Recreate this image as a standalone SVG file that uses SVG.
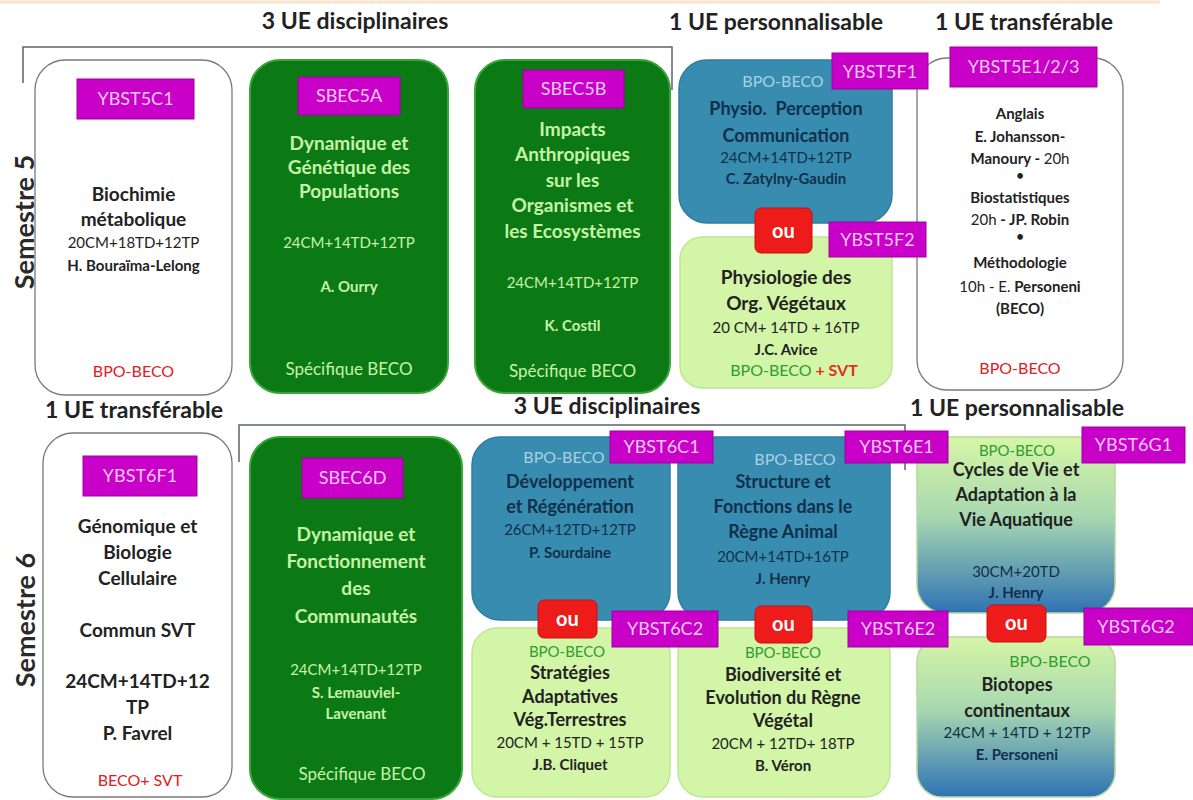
<svg xmlns="http://www.w3.org/2000/svg" width="1193" height="800" viewBox="0 0 1193 800">
<defs>
<linearGradient id="gb" x1="0" y1="0" x2="0" y2="1">
<stop offset="0" stop-color="#d6f6a6"/>
<stop offset="0.45" stop-color="#a8d8b0"/>
<stop offset="1" stop-color="#2f72b4"/>
</linearGradient>
<style>
text{font-family:Lato,"Liberation Sans",sans-serif;text-anchor:middle}
.title{font-size:23px;font-weight:bold;fill:#222}
.sem{font-size:27px;font-weight:bold;fill:#2a2a2a}
.lbl rect{fill:#c800c8;stroke:#a000a0;stroke-width:1}
.lbl text{fill:#f7c9f7;font-size:18px}
.white{fill:#fff;stroke:#7a7a7a;stroke-width:1.3}
.green{fill:#0c7a14;stroke:#39a539;stroke-width:2}
.blue{fill:#388cb0;stroke:#2e7ea0;stroke-width:1.5}
.lgreen{fill:#d3f5a8;stroke:#bfe597;stroke-width:1.5}
.grad{fill:url(#gb);stroke:#b8d8a0;stroke-width:1.5}
.ou rect{fill:#ee1b1b;stroke:#c81010;stroke-width:1}
.ou text{fill:#fff;font-size:20px;font-weight:bold}
.h{font-size:19px;font-weight:bold}
.s{font-size:15px}
.n{font-size:15px;font-weight:bold}
.dk{fill:#222}
.gt{fill:#c6f3a8}
.nv{fill:#10304b}
.rd{fill:#e02020}
.gr{fill:#2e9e2e}
.lb{fill:#a9d0e2}
.con{fill:none;stroke:#5b6170;stroke-width:1.5}
</style>
</defs>
<rect width="1193" height="800" fill="#fff"/>
<line x1="0" y1="2" x2="1160" y2="2" stroke="#fbe3cc" stroke-width="3"/>

<g id="connectors">
<polyline class="con" points="23,83 23,47 672,47 672,90"/>
<polyline class="con" points="239,462 239,425 905,425 905,470"/>
</g>

<g id="titles">
<text class="title" x="355" y="29">3 UE disciplinaires</text>
<text class="title" x="776" y="30">1 UE personnalisable</text>
<text class="title" x="1024" y="30">1 UE transférable</text>
<text class="title" x="134" y="418">1 UE transférable</text>
<text class="title" x="607" y="414">3 UE disciplinaires</text>
<text class="title" x="1017" y="416">1 UE personnalisable</text>
<text class="sem" transform="translate(34,222) rotate(-90)">Semestre 5</text>
<text class="sem" transform="translate(35,620) rotate(-90)">Semestre 6</text>
</g>

<g id="ybst5c1">
<rect class="white" x="35" y="60" width="197" height="335" rx="30"/>
<g class="lbl"><rect x="77" y="79" width="117" height="40"/><text x="135.5" y="105">YBST5C1</text></g>
<text class="h dk" x="133.5" y="201">Biochimie</text>
<text class="h dk" x="133.5" y="226">métabolique</text>
<text class="s dk" x="133.5" y="248">20CM+18TD+12TP</text>
<text class="n dk" x="133.5" y="271">H. Bouraïma-Lelong</text>
<text class="s rd" x="133.5" y="377" style="font-size:16px">BPO-BECO</text>
</g>

<g id="sbec5a">
<rect class="green" x="250" y="60" width="198" height="333" rx="30"/>
<g class="lbl"><rect x="298" y="77" width="102" height="38"/><text x="349" y="102">SBEC5A</text></g>
<text class="h gt" x="349" y="150">Dynamique et</text>
<text class="h gt" x="349" y="174">Génétique des</text>
<text class="h gt" x="349" y="198">Populations</text>
<text class="s gt" x="349" y="248">24CM+14TD+12TP</text>
<text class="n gt" x="349" y="292">A. Ourry</text>
<text class="s gt" x="349" y="375" style="font-size:17px">Spécifique BECO</text>
</g>

<g id="sbec5b">
<rect class="green" x="475" y="60" width="195" height="333" rx="30"/>
<g class="lbl"><rect x="523" y="70" width="101" height="38"/><text x="573.5" y="95">SBEC5B</text></g>
<text class="h gt" x="572.5" y="136">Impacts</text>
<text class="h gt" x="572.5" y="161">Anthropiques</text>
<text class="h gt" x="572.5" y="187">sur les</text>
<text class="h gt" x="572.5" y="212">Organismes et</text>
<text class="h gt" x="572.5" y="238">les Ecosystèmes</text>
<text class="s gt" x="572.5" y="288">24CM+14TD+12TP</text>
<text class="n gt" x="572.5" y="331">K. Costil</text>
<text class="s gt" x="572.5" y="377" style="font-size:17px">Spécifique BECO</text>
</g>

<g id="ybst5e">
<rect class="white" x="917" y="58" width="206" height="332" rx="30"/>
<g class="lbl"><rect x="950" y="47" width="147" height="40"/><text x="1023.5" y="73">YBST5E1/2/3</text></g>
<text class="n dk" x="1020" y="119">Anglais</text>
<text class="n dk" x="1020" y="142">E. Johansson-</text>
<text class="n dk" x="1020" y="164">Manoury - <tspan font-weight="normal">20h</tspan></text>
<text class="s dk" x="1020" y="181">•</text>
<text class="n dk" x="1020" y="203">Biostatistiques</text>
<text class="n dk" x="1020" y="225"><tspan font-weight="normal">20h</tspan> - JP. Robin</text>
<text class="s dk" x="1020" y="242">•</text>
<text class="n dk" x="1020" y="268">Méthodologie</text>
<text class="n dk" x="1020" y="292"><tspan font-weight="normal">10h - E.</tspan> Personeni</text>
<text class="n dk" x="1020" y="314">(BECO)</text>
<text class="s rd" x="1020" y="374" style="font-size:16px">BPO-BECO</text>
</g>

<g id="ybst5f1">
<rect class="blue" x="679" y="60" width="213" height="163" rx="28"/>
<g class="lbl"><rect x="832" y="53" width="96" height="36"/><text x="880" y="78">YBST5F1</text></g>
<text class="s lb" x="783" y="87" style="font-size:16px">BPO-BECO</text>
<text class="h nv" x="786" y="115" style="font-size:18px">Physio.&#160; Perception</text>
<text class="h nv" x="786" y="142" style="font-size:18px">Communication</text>
<text class="s nv" x="786" y="163">24CM+14TD+12TP</text>
<text class="n nv" x="786" y="184">C. Zatylny-Gaudin</text>
</g>

<g id="ybst5f2">
<rect class="lgreen" x="680" y="237" width="212" height="151" rx="22"/>
<g class="lbl"><rect x="829" y="222" width="97" height="35"/><text x="877.5" y="246">YBST5F2</text></g>
<g class="ou"><rect x="755" y="208" width="57" height="45" rx="6"/><text x="783.5" y="238">ou</text></g>
<text class="h dk" x="786" y="284">Physiologie des</text>
<text class="h dk" x="786" y="310">Org. Végétaux</text>
<text class="s dk" x="786" y="333">20 CM+ 14TD + 16TP</text>
<text class="n dk" x="786" y="355">J.C. Avice</text>
<text class="s gr" x="794" y="376" style="font-size:16px">BPO-BECO<tspan fill="#e0301a" font-weight="bold"> + SVT</tspan></text>
</g>

<g id="ybst6f1">
<rect class="white" x="43" y="433" width="189" height="364" rx="30"/>
<g class="lbl"><rect x="83" y="456" width="114" height="40"/><text x="140" y="482">YBST6F1</text></g>
<text class="h dk" x="137.5" y="533">Génomique et</text>
<text class="h dk" x="137.5" y="559">Biologie</text>
<text class="h dk" x="137.5" y="585">Cellulaire</text>
<text class="h dk" x="137.5" y="637">Commun SVT</text>
<text class="h dk" x="137.5" y="688">24CM+14TD+12</text>
<text class="h dk" x="137.5" y="714">TP</text>
<text class="h dk" x="137.5" y="740">P. Favrel</text>
<text class="s rd" x="140" y="786" style="font-size:16px">BECO+ SVT</text>
</g>

<g id="sbec6d">
<rect class="green" x="250" y="437" width="212" height="362" rx="30"/>
<g class="lbl"><rect x="302" y="458" width="101" height="40"/><text x="352.5" y="484">SBEC6D</text></g>
<text class="h gt" x="356" y="541">Dynamique et</text>
<text class="h gt" x="356" y="568">Fonctionnement</text>
<text class="h gt" x="356" y="595">des</text>
<text class="h gt" x="356" y="623">Communautés</text>
<text class="s gt" x="356" y="675">24CM+14TD+12TP</text>
<text class="n gt" x="356" y="698">S. Lemauviel-</text>
<text class="n gt" x="356" y="719">Lavenant</text>
<text class="s gt" x="362" y="780" style="font-size:17px">Spécifique BECO</text>
</g>

<g id="ybst6g1">
<rect class="grad" x="917" y="437" width="198" height="176" rx="28"/>
<g class="lbl"><rect x="1082" y="427" width="103" height="36"/><text x="1133.5" y="451">YBST6G1</text></g>
<text class="s gr" x="1017" y="456" style="font-size:15px">BPO-BECO</text>
<text class="h dk" x="1016" y="476" style="font-size:18px">Cycles de Vie et</text>
<text class="h dk" x="1016" y="501" style="font-size:18px">Adaptation à la</text>
<text class="h dk" x="1016" y="526" style="font-size:18px">Vie Aquatique</text>
<text class="s nv" x="1016" y="577">30CM+20TD</text>
<text class="n nv" x="1016" y="598">J. Henry</text>
</g>

<g id="ybst6g2">
<rect class="grad" x="917" y="637" width="198" height="160" rx="25"/>
<g class="lbl"><rect x="1084" y="608" width="109" height="37"/><text x="1136" y="633">YBST6G2</text></g>
<g class="ou"><rect x="987" y="605" width="59" height="37" rx="6"/><text x="1016.5" y="630">ou</text></g>
<text class="s gr" x="1050" y="667" style="font-size:16px">BPO-BECO</text>
<text class="h dk" x="1017" y="691" style="font-size:18px">Biotopes</text>
<text class="h dk" x="1017" y="717" style="font-size:18px">continentaux</text>
<text class="s nv" x="1017" y="738">24CM + 14TD + 12TP</text>
<text class="n nv" x="1017" y="760">E. Personeni</text>
</g>

<g id="ybst6e1">
<rect class="blue" x="678" y="437" width="212" height="183" rx="28"/>
<g class="lbl"><rect x="845" y="431" width="103" height="32"/><text x="896.5" y="453">YBST6E1</text></g>
<text class="s lb" x="795" y="465" style="font-size:16px">BPO-BECO</text>
<text class="h nv" x="783" y="488" style="font-size:18px">Structure et</text>
<text class="h nv" x="783" y="513" style="font-size:18px">Fonctions dans le</text>
<text class="h nv" x="783" y="538" style="font-size:18px">Règne Animal</text>
<text class="s nv" x="783" y="562">20CM+14TD+16TP</text>
<text class="n nv" x="783" y="584">J. Henry</text>
</g>

<g id="ybst6e2">
<rect class="lgreen" x="678" y="628" width="212" height="169" rx="25"/>
<g class="lbl"><rect x="848" y="611" width="100" height="36"/><text x="898" y="635">YBST6E2</text></g>
<g class="ou"><rect x="755" y="606" width="57" height="37" rx="6"/><text x="783.5" y="631">ou</text></g>
<text class="s gr" x="783" y="658" style="font-size:15px">BPO-BECO</text>
<text class="h dk" x="783" y="681" style="font-size:18px">Biodiversité et</text>
<text class="h dk" x="783" y="704" style="font-size:18px">Evolution du Règne</text>
<text class="h dk" x="783" y="727" style="font-size:18px">Végétal</text>
<text class="s dk" x="783" y="749">20CM + 12TD+ 18TP</text>
<text class="n dk" x="783" y="771">B. Véron</text>
</g>

<g id="ybst6c1">
<rect class="blue" x="472" y="437" width="198" height="183" rx="28"/>
<g class="lbl"><rect x="610" y="431" width="103" height="32"/><text x="661.5" y="453">YBST6C1</text></g>
<text class="s lb" x="564" y="463" style="font-size:16px">BPO-BECO</text>
<text class="h nv" x="570" y="488" style="font-size:18px">Développement</text>
<text class="h nv" x="570" y="513" style="font-size:18px">et Régénération</text>
<text class="s nv" x="570" y="535">26CM+12TD+12TP</text>
<text class="n nv" x="570" y="558">P. Sourdaine</text>
</g>

<g id="ybst6c2">
<rect class="lgreen" x="472" y="628" width="198" height="169" rx="25"/>
<g class="lbl"><rect x="612" y="611" width="106" height="36"/><text x="665" y="635">YBST6C2</text></g>
<g class="ou"><rect x="538" y="600" width="59" height="38" rx="6"/><text x="567.5" y="626">ou</text></g>
<text class="s gr" x="567" y="657" style="font-size:15px">BPO-BECO</text>
<text class="h dk" x="570" y="679" style="font-size:18px">Stratégies</text>
<text class="h dk" x="570" y="703" style="font-size:18px">Adaptatives</text>
<text class="h dk" x="570" y="726" style="font-size:18px">Vég.Terrestres</text>
<text class="s dk" x="570" y="748">20CM + 15TD + 15TP</text>
<text class="n dk" x="570" y="770">J.B. Cliquet</text>
</g>
</svg>
